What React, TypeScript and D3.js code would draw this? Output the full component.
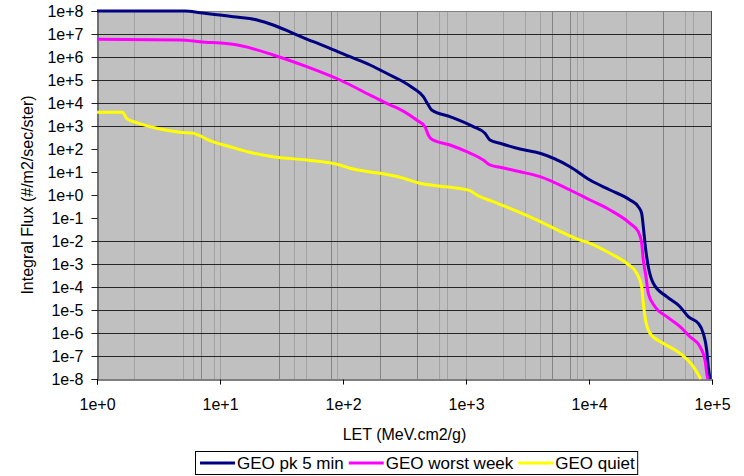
import React, { useEffect, useRef } from "react";
import * as d3 from "d3";

const W = 744;
const H = 476;

// axis ticks
const xTickValues = [1, 10, 100, 1000, 10000, 100000];
const yTickValues = [1e8, 1e7, 1e6, 1e5, 1e4, 1e3, 1e2, 1e1, 1e0, 1e-1, 1e-2, 1e-3, 1e-4, 1e-5, 1e-6, 1e-7, 1e-8];
const hGridValues = [1e7, 1e6, 1e5, 1e4, 1e3, 1e-2, 1e-3, 1e-4, 1e-5, 1e-6, 1e-7];
const vGridDark = [7, 30, 80, 200, 400, 5000, 7000, 40000];
const vGridLight = [2, 5, 6, 9, 10, 40, 50, 90, 600, 700, 1000, 2000, 3000, 4000, 8000, 9000, 20000, 60000, 70000];

const xTitle = "LET (MeV.cm2/g)";
const yTitle = "Integral Flux (#/m2/sec/ster)";
const seriesNames = ["GEO pk 5 min", "GEO worst week", "GEO quiet"];

// GEO pk 5 min
const pk5LET = [1, 5.2, 6.9, 12.8, 20, 27.1, 39.4, 57.4, 78.4, 114, 166, 256, 309, 373, 450, 494, 526, 741, 1146, 1426, 1566, 1890, 2747, 3997, 7010, 10190, 14820, 21540, 25170, 26800, 27640, 28530, 29440, 30350, 33320, 42850, 54950, 64150, 77400, 84950, 90540, 93300, 96300];
const pk5Flux = [1e8, 1e8, 8.4e7, 5.65e7, 4.06e7, 2.46e7, 1.07e7, 4.62e6, 2.39e6, 1.03e6, 4.49e5, 1.39e5, 8.43e4, 4.36e4, 1.88e4, 8.19e3, 4.96e3, 2.54e3, 933, 482, 246, 177, 100, 65, 17, 4.49, 1.65, 0.607, 0.31, 0.16, 0.0419, 7.94e-3, 2.07e-3, 7.63e-4, 1.45e-4, 3.79e-5, 1.39e-5, 5.11e-6, 2.64e-6, 9.7e-7, 1.82e-7, 3.43e-8, 1e-8];

// GEO worst week
const wwLET = [1, 4.73, 6.88, 14.54, 27.1, 50.7, 94.5, 176.3, 241, 290.6, 397, 464, 493.7, 526, 741, 1013, 1382, 1566, 1890, 2747, 3997, 7010, 10190, 14820, 21540, 25170, 26800, 27640, 29070, 30350, 34400, 42850, 54950, 66200, 79800, 87700, 91600, 92800];
const wwFlux = [5.89e6, 5.48e6, 4.62e6, 3.16e6, 1.22e6, 3.79e5, 1.0e5, 1.88e4, 8.19e3, 5.32e3, 1.82e3, 933, 406, 264, 149, 76.3, 33.2, 20.2, 16, 10.3, 6.25, 1.65, 0.607, 0.223, 0.0589, 0.0254, 7.94e-3, 1.49e-3, 2.8e-4, 5.32e-5, 1.39e-5, 5.11e-6, 1.88e-6, 6.9e-7, 2.54e-7, 6.7e-8, 1.26e-8, 1e-8];

// GEO quiet
const qLET = [1, 1.61, 1.74, 2.1, 3.06, 4.73, 6.07, 6.66, 8.29, 12.06, 17.5, 27.1, 50.7, 94.5, 114, 200, 290.6, 422.7, 741, 1078, 1222, 1667, 2278, 3525, 8450, 10190, 14820, 20250, 24420, 26800, 27640, 28530, 31330, 40180, 54950, 70500, 81000];
const qFlux = [3.94e3, 3.94e3, 2.16e3, 1.39e3, 794, 532, 482, 406, 230, 126, 71.9, 46.3, 33.2, 20.2, 14.5, 8.78, 5.89, 3.23, 2.16, 1.54, 1.0, 0.512, 0.264, 0.097, 0.011, 7.94e-3, 2.92e-3, 1.07e-3, 3.94e-4, 1.03e-4, 1.95e-5, 5.11e-6, 9.7e-7, 3.56e-7, 1.31e-7, 3.43e-8, 1e-8];

const seriesLET = [pk5LET, wwLET, qLET];
const seriesFlux = [pk5Flux, wwFlux, qFlux];
const seriesColors = ["#000080", "#ff00ff", "#ffff00"];

const FONT = "'Liberation Sans', Arial, sans-serif";

function fmtExp(v: number): string {
  const e = Math.round(Math.log10(v));
  return `1e${e >= 0 ? "+" : ""}${e}`;
}

export default function App() {
  const ref = useRef<SVGSVGElement | null>(null);

  useEffect(() => {
    const svg = d3.select(ref.current);
    svg.selectAll("*").remove();

    const left = 97, right = 712, top = 11, bottom = 379;
    const x = d3.scaleLog().domain([1, 1e5]).range([left, right]);
    const y = d3.scaleLog().domain([1e-8, 1e8]).range([bottom, top]);
    const px = (v: number) => Math.round(x(v)) + 0.5;
    const py = (v: number) => Math.round(y(v)) + 0.5;

    svg.append("rect").attr("width", W).attr("height", H).attr("fill", "#ffffff");

    // plot area
    svg.append("rect")
      .attr("x", left).attr("y", top)
      .attr("width", right - left).attr("height", bottom - top)
      .attr("fill", "#c0c0c0");

    // vertical grid
    svg.append("g").selectAll("line").data(vGridLight).join("line")
      .attr("x1", (d) => px(d)).attr("x2", (d) => px(d))
      .attr("y1", top).attr("y2", bottom)
      .attr("stroke", "#a3a3a3").attr("stroke-width", 1);
    svg.append("g").selectAll("line").data(vGridDark).join("line")
      .attr("x1", (d) => px(d)).attr("x2", (d) => px(d))
      .attr("y1", top).attr("y2", bottom)
      .attr("stroke", "#858585").attr("stroke-width", 1);

    // horizontal grid
    svg.append("g").selectAll("line").data(hGridValues).join("line")
      .attr("x1", left).attr("x2", right)
      .attr("y1", (d) => py(d)).attr("y2", (d) => py(d))
      .attr("stroke", "#262626").attr("stroke-width", 1);

    // borders
    svg.append("line").attr("x1", left).attr("x2", right).attr("y1", top + 0.5).attr("y2", top + 0.5)
      .attr("stroke", "#808080");
    svg.append("line").attr("x1", right - 0.5).attr("x2", right - 0.5).attr("y1", top).attr("y2", bottom)
      .attr("stroke", "#505050");

    // axes
    const yAxis = d3.axisLeft(y).tickValues(yTickValues).tickFormat((d) => fmtExp(d as number))
      .tickSize(6).tickPadding(8);
    const gy = svg.append("g").attr("transform", `translate(${left + 0.5},0)`).call(yAxis);
    gy.select(".domain").attr("stroke", "#202020");
    gy.selectAll(".tick line").attr("stroke", "#202020");
    gy.selectAll(".tick text").attr("font-family", FONT).attr("font-size", 16).attr("fill", "#000");

    const xAxis = d3.axisBottom(x).tickValues(xTickValues).tickFormat((d) => fmtExp(d as number))
      .tickSize(5).tickPadding(14);
    const gx = svg.append("g").attr("transform", `translate(0,${bottom + 0.5})`).call(xAxis);
    gx.select(".domain").attr("stroke", "#000");
    gx.selectAll(".tick line").attr("stroke", "#000");
    gx.selectAll(".tick text").attr("font-family", FONT).attr("font-size", 16).attr("fill", "#000");

    // series
    const line = d3.line<[number, number]>()
      .x((d) => x(d[0])).y((d) => y(d[1]))
      .curve(d3.curveMonotoneX);
    seriesLET.forEach((lets, i) => {
      const pts: [number, number][] = lets.map((l, j) => [l, seriesFlux[i][j]]);
      svg.append("path").attr("d", line(pts) as string)
        .attr("fill", "none").attr("stroke", seriesColors[i])
        .attr("stroke-width", 3).attr("stroke-linejoin", "round").attr("stroke-linecap", "butt");
    });

    // titles
    svg.append("text").text(xTitle)
      .attr("x", (left + right) / 2).attr("y", 440)
      .attr("text-anchor", "middle").attr("font-family", FONT).attr("font-size", 16);
    svg.append("text").text(yTitle)
      .attr("transform", `translate(33,${(top + bottom) / 2}) rotate(-90)`)
      .attr("text-anchor", "middle").attr("font-family", FONT).attr("font-size", 16);

    // legend
    const lg = svg.append("g");
    const box = lg.append("rect").attr("x", 195.5).attr("y", 451.5).attr("height", 23)
      .attr("fill", "#fff").attr("stroke", "#000").attr("stroke-width", 1);
    let cx = 200;
    seriesNames.forEach((name, i) => {
      lg.append("line").attr("x1", cx).attr("x2", cx + 35).attr("y1", 463).attr("y2", 463)
        .attr("stroke", seriesColors[i]).attr("stroke-width", 3);
      const t = lg.append("text").text(name)
        .attr("x", cx + 37).attr("y", 469)
        .attr("font-family", FONT).attr("font-size", 17);
      const w = (t.node() as SVGTextElement).getComputedTextLength();
      cx = cx + 37 + w + 5;
    });
    box.attr("width", cx - 5 + 3 - 195.5);
  }, []);

  return (
    <div style={{ position: "absolute", left: 0, top: 0 }}>
      <svg ref={ref} width={W} height={H} style={{ display: "block" }} />
    </div>
  );
}
